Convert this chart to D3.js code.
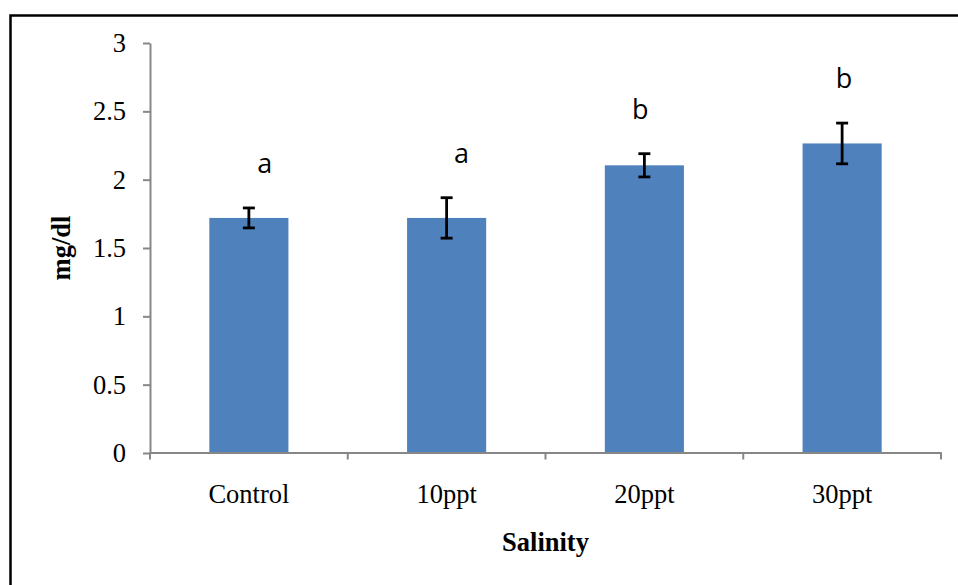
<!DOCTYPE html>
<html>
<head>
<meta charset="utf-8">
<script src="https://cdn.jsdelivr.net/npm/d3@7"></script>
<style>
  html, body { margin: 0; padding: 0; background: #fff; }
  svg { display: block; }
</style>
</head>
<body>
<script>
// Mean concentration (mg/dl) by salinity treatment, with error margins and significance letters
const categories = ["Control", "10ppt", "20ppt", "30ppt"];
const means = [1.72, 1.72, 2.105, 2.265];
const errors = [0.073, 0.148, 0.085, 0.149];
const letters = ["a", "a", "b", "b"];
const yTicks = [0, 0.5, 1, 1.5, 2, 2.5, 3];

const W = 958, H = 585;
const plot = { left: 150, right: 941, top: 43, bottom: 453 };
const letterShift = [16, 15, -4, 2];   // horizontal nudge of each significance letter

const svg = d3.select("body").append("svg")
  .attr("width", W).attr("height", H);

// outer frame
svg.append("rect")
  .attr("x", 10.5).attr("y", 15.5)
  .attr("width", 1000).attr("height", 600)
  .attr("fill", "none").attr("stroke", "#000").attr("stroke-width", 2.5);

const x = d3.scaleBand()
  .domain(categories)
  .range([plot.left, plot.right])
  .paddingInner(0.6)
  .paddingOuter(0.3);

const y = d3.scaleLinear()
  .domain([0, 3])
  .range([plot.bottom, plot.top]);

const serif = "'Liberation Serif', 'Times New Roman', serif";
const axisColor = "#878787";

// bars
svg.append("g").selectAll("rect")
  .data(categories)
  .join("rect")
  .attr("x", d => x(d))
  .attr("y", (d, i) => y(means[i]))
  .attr("width", x.bandwidth())
  .attr("height", (d, i) => y(0) - y(means[i]))
  .attr("fill", "#4F81BD");

// y axis
const yAxis = svg.append("g")
  .attr("transform", `translate(${plot.left},0)`)
  .call(d3.axisLeft(y).tickValues(yTicks).tickFormat(d => String(d))
    .tickSize(7).tickSizeOuter(0).tickPadding(17));
yAxis.select(".domain").attr("stroke", axisColor).attr("stroke-width", 2);
yAxis.selectAll(".tick line").attr("stroke", axisColor).attr("stroke-width", 2);
yAxis.selectAll(".tick text")
  .attr("fill", "#000")
  .style("font-family", serif).style("font-size", "26.5px");

// x axis: category labels centred on bars, tick marks on category boundaries
const xAxis = svg.append("g")
  .attr("transform", `translate(0,${plot.bottom - 0.5})`)
  .call(d3.axisBottom(x).tickSize(0).tickSizeOuter(0).tickPadding(32));
xAxis.select(".domain").attr("stroke", axisColor).attr("stroke-width", 2);
xAxis.selectAll(".tick text")
  .attr("fill", "#000")
  .style("font-family", serif).style("font-size", "26.5px");

const boundaries = d3.range(categories.length + 1)
  .map(i => plot.left + i * x.step());
xAxis.selectAll(".bound")
  .data(boundaries)
  .join("line")
  .attr("class", "bound")
  .attr("x1", d => d).attr("x2", d => d)
  .attr("y1", 0).attr("y2", 7)
  .attr("stroke", axisColor).attr("stroke-width", 2);

// error bars
const eb = svg.append("g").attr("stroke", "#000").attr("stroke-width", 2.8);
categories.forEach((c, i) => {
  const cx = x(c) + x.bandwidth() / 2;
  const top = y(means[i] + errors[i]);
  const bot = y(means[i] - errors[i]);
  eb.append("line").attr("x1", cx).attr("x2", cx).attr("y1", top).attr("y2", bot);
  eb.append("line").attr("x1", cx - 6).attr("x2", cx + 6).attr("y1", top).attr("y2", top);
  eb.append("line").attr("x1", cx - 6).attr("x2", cx + 6).attr("y1", bot).attr("y2", bot);
});

// significance letters
svg.append("g").selectAll("text")
  .data(letters)
  .join("text")
  .attr("x", (d, i) => x(categories[i]) + x.bandwidth() / 2 + letterShift[i])
  .attr("y", (d, i) => y(means[i] + errors[i]) - 35)
  .attr("text-anchor", "middle")
  .style("font-family", "'Open Sans', 'Noto Sans', sans-serif")
  .style("font-size", "27px")
  .attr("fill", "#000")
  .text(d => d);

// axis titles
svg.append("text")
  .attr("transform", `translate(70,${(plot.top + plot.bottom) / 2}) rotate(-90)`)
  .attr("text-anchor", "middle")
  .style("font-family", serif).style("font-size", "26.5px").style("font-weight", "bold")
  .attr("fill", "#000")
  .text("mg/dl");

svg.append("text")
  .attr("x", (plot.left + plot.right) / 2)
  .attr("y", 551)
  .attr("text-anchor", "middle")
  .style("font-family", serif).style("font-size", "26.5px").style("font-weight", "bold")
  .attr("fill", "#000")
  .text("Salinity");
</script>
</body>
</html>
